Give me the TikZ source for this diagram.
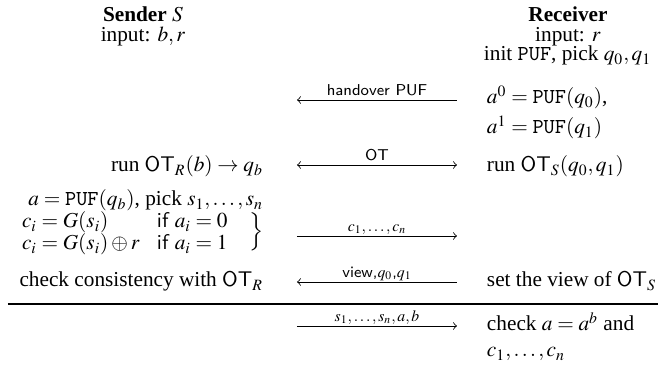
\documentclass[tikz,border=0pt]{standalone}
\usepackage{mathptmx}
\usepackage{fontspec}
\setmainfont{Liberation Serif}
\begin{document}
\begin{tikzpicture}[x=0.47pt,y=-0.47pt,
  txt/.style={inner sep=0pt,outer sep=0pt,font=\fontsize{10}{12}\selectfont},
  lbl/.style={inner sep=2.3pt,outer sep=0pt,text depth=0pt,font=\sffamily\fontsize{7.4}{9}\selectfont},
  msg/.style={line width=0.4pt},
  rule/.style={line width=0.8pt}]
\useasboundingbox (0,0) rectangle (658,370);
% headers
\node[txt,anchor=base] (sh) at (143,22) {\textbf{Sender} $S$};
\node[txt,anchor=base] (sin) at (143,42) {input: $b,r$};
\node[txt,anchor=base] (rh) at (568,22) {\textbf{Receiver}};
\node[txt,anchor=base] (rin) at (568,42) {input: $r$};
% receiver column
\node[txt,anchor=base west] (r1) at (484,61) {init \texttt{PUF}, pick $q_0,q_1$};
\node[txt,anchor=base west] (r2) at (487,104) {$a^0=\texttt{PUF}(q_0)$,};
\node[txt,anchor=base west] (r3) at (487,134) {$a^1=\texttt{PUF}(q_1)$};
\node[txt,anchor=base west] (r4) at (487,172) {run $\mathsf{OT}_S(q_0,q_1)$};
\node[txt,anchor=base west] (r5) at (487,287) {set the view of $\mathsf{OT}_S$};
\node[txt,anchor=base west] (r6) at (487,331) {check $a=a^b$ and};
\node[txt,anchor=base west] (r7) at (487,357) {$c_1,\ldots,c_n$};
% sender column
\node[txt,anchor=base east] (l1) at (263,172) {run $\mathsf{OT}_R(b)\rightarrow q_b$};
\node[txt,anchor=base east] (l2) at (263,206) {$a=\texttt{PUF}(q_b)$, pick $s_1,\ldots,s_n$};
\node[txt,anchor=base west] (c1) at (22,228) {$c_i=G(s_i)$};
\node[txt,anchor=base west] (i1) at (157,228) {\textsf{if} $a_i=0$};
\node[txt,anchor=base west] (c2) at (22,250) {$c_i=G(s_i)\oplus r$};
\node[txt,anchor=base west] (i2) at (157,250) {\textsf{if} $a_i=1$};
\node[txt] (br) at (257,237) {\smash{$\Big\}$}};
\node[txt,anchor=base east] (l4) at (263,287) {check consistency with $\mathsf{OT}_R$};
% messages
\coordinate (m1l) at (297,100); \coordinate (m1r) at (457,100);
\coordinate (m2l) at (297,165); \coordinate (m2r) at (457,165);
\coordinate (m3l) at (297,236); \coordinate (m3r) at (457,236);
\coordinate (m4l) at (297,282); \coordinate (m4r) at (457,282);
\coordinate (m5l) at (297,326); \coordinate (m5r) at (457,326);
\coordinate (rl) at (8,304); \coordinate (rr) at (658,304);
\draw[msg,<-] (m1l) -- node[lbl,above] (t1) {handover PUF} (m1r);
\draw[msg,<->] (m2l) -- node[lbl,above] (t2) {OT} (m2r);
\draw[msg,->] (m3l) -- node[lbl,above] (t3) {$c_1,\ldots,c_n$} (m3r);
\draw[msg,<-] (m4l) -- node[lbl,above] (t4) {view,$q_0$,$q_1$} (m4r);
\draw[rule] (rl) -- (rr);
\draw[msg,->] (m5l) -- node[lbl,above] (t5) {$s_1,\ldots,s_n,a,b$} (m5r);
\end{tikzpicture}
\end{document}
